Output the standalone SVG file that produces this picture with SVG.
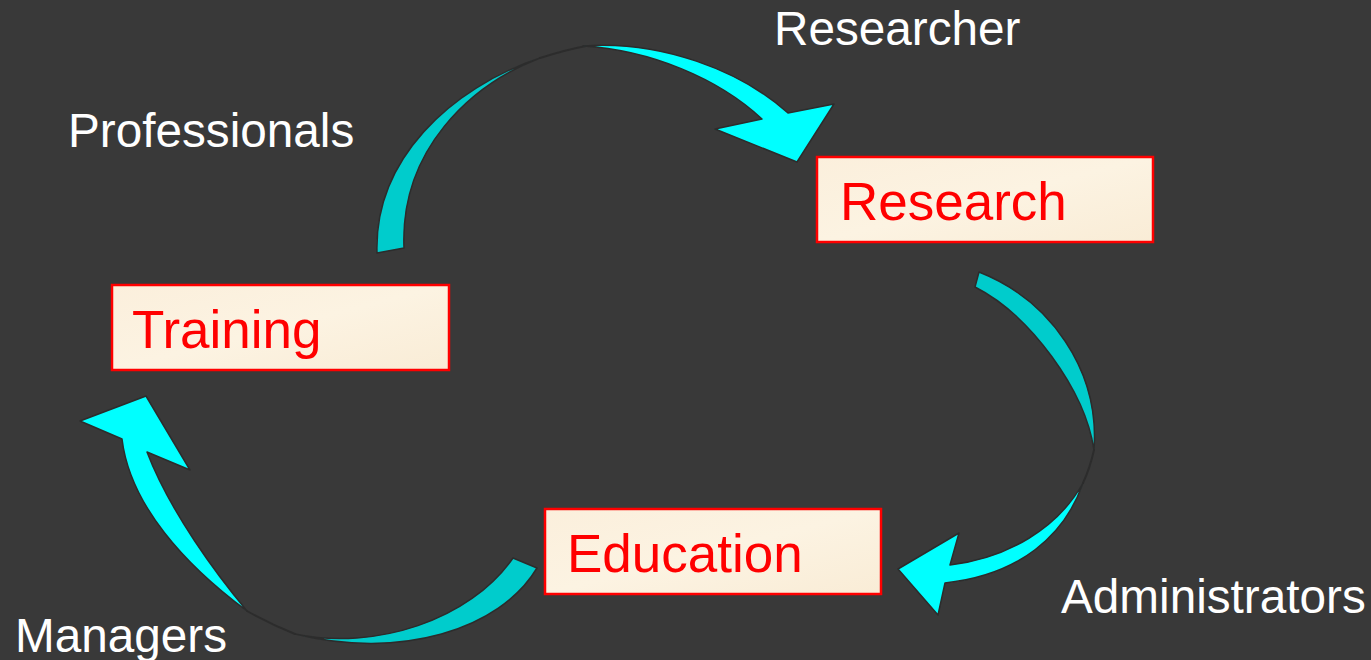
<svg xmlns="http://www.w3.org/2000/svg" width="1371" height="660" viewBox="0 0 1371 660">
  <style>
    .box{fill:url(#parch);stroke:#FF0000;stroke-width:2.5}
    .boxtxt{font-family:"Liberation Sans",Arial,sans-serif;font-size:53px;fill:#FF0000}
    .lbl{font-family:"Liberation Sans",Arial,sans-serif;font-size:47.7px;fill:#FFFFFF}
    .back{fill:#00CCCC;stroke:#2C2C2C;stroke-width:1.5;stroke-linejoin:round}
    .front{fill:#00FFFF;stroke:#2C2C2C;stroke-width:1.5;stroke-linejoin:round}
    .seam{fill:none;stroke:#2C2C2C;stroke-width:2;stroke-linecap:round}
  </style>
  <defs>
    <linearGradient id="parch" x1="0" y1="0" x2="1" y2="1">
      <stop offset="0" stop-color="#FBEFDC"/>
      <stop offset="0.5" stop-color="#FCF3E2"/>
      <stop offset="1" stop-color="#F9ECD6"/>
    </linearGradient>
  </defs>
  <rect width="1371" height="660" fill="#393939"/>

  <g id="connectors">
    <g id="arrow-training-research">
      <path class="back" d="M377,253 C374,160 450,88 540,58 C470,85 400,150 404,248 Z"/>
      <path class="seam" d="M540,58 Q565,50 586,46"/>
      <path class="front" d="M583,46 C660,40 740,70 788,113 L834,104 L797,162 L715,129 L762,119 C718,78 650,50 583,46 Z"/>
    </g>
    <g id="arrow-research-education">
      <path class="back" d="M979,272 C1050,300 1100,370 1094,450 C1085,390 1030,315 975,287 Z"/>
      <path class="seam" d="M1094,450 Q1090,468 1083,483"/>
      <path class="front" d="M1083,483 C1065,535 1020,575 945,583 L938,615 L898,569 L959,533 L950,565 C1008,558 1058,528 1083,483 Z"/>
    </g>
    <g id="arrow-education-training">
      <path class="back" d="M537,568 C500,630 400,660 295,634 C375,651 470,620 513,558 Z"/>
      <path class="seam" d="M295,634 Q270,624 247,611"/>
      <path class="front" d="M247,611 C185,565 130,505 122,439 L80,421 L146,396 L190,470 L147,452 C170,512 217,575 247,611 Z"/>
    </g>
  </g>

  <g id="node-research">
    <rect class="box" x="817" y="157" width="336" height="85"/>
    <text class="boxtxt" x="840" y="220">Research</text>
  </g>
  <g id="node-training">
    <rect class="box" x="112" y="285" width="337" height="85"/>
    <text class="boxtxt" x="132" y="348">Training</text>
  </g>
  <g id="node-education">
    <rect class="box" x="545" y="509" width="336" height="85"/>
    <text class="boxtxt" x="567" y="572">Education</text>
  </g>

  <g id="labels">
    <text class="lbl" x="774" y="45">Researcher</text>
    <text class="lbl" x="68" y="147">Professionals</text>
    <text class="lbl" x="1061" y="613">Administrators</text>
    <text class="lbl" x="15" y="652">Managers</text>
  </g>
</svg>
